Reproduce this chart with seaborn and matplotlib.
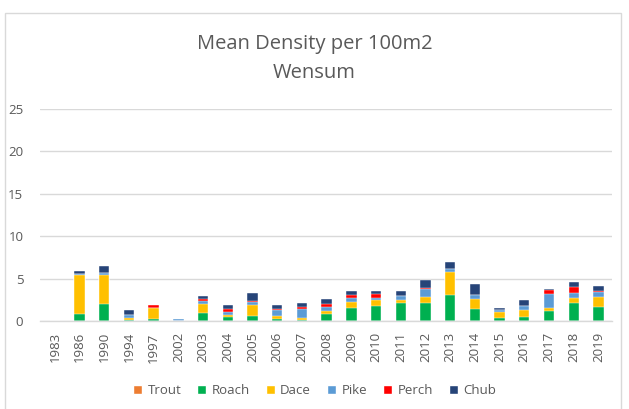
import pandas as pd
import seaborn as sns
import matplotlib.pyplot as plt
from matplotlib.patches import Patch, Rectangle

years = ['1983', '1986', '1990', '1994', '1997', '2002', '2003', '2004', '2005', '2006', '2007', '2008',
         '2009', '2010', '2011', '2012', '2013', '2014', '2015', '2016', '2017', '2018', '2019']
trout = [0] * 23
roach = [0, 0.8, 2.0, 0.1, 0.3, 0, 1.0, 0.47, 0.6, 0.27, 0.12, 0.78,
         1.5, 1.76, 2.08, 2.08, 3.06, 1.37, 0.39, 0.47, 1.18, 2.08, 1.61]
dace = [0, 4.6, 3.45, 0.25, 1.23, 0, 1.06, 0.28, 1.25, 0.36, 0.27, 0.36,
        0.78, 0.67, 0.39, 0.7, 2.7, 1.22, 0.63, 0.82, 0.31, 0.59, 1.25]
pike = [0, 0.1, 0.2, 0.35, 0, 0.2, 0.35, 0.31, 0.4, 0.62, 0.98, 0.51,
        0.4, 0.32, 0.47, 0.95, 0.32, 0.51, 0.27, 0.51, 1.69, 0.58, 0.55]
perch = [0, 0.1, 0, 0, 0.35, 0, 0.24, 0.31, 0.15, 0.2, 0.24, 0.39,
         0.39, 0.39, 0, 0.19, 0, 0, 0, 0, 0.47, 0.71, 0.08]
chub = [0, 0.35, 0.9, 0.63, 0, 0.1, 0.31, 0.51, 0.9, 0.43, 0.47, 0.55,
        0.43, 0.43, 0.63, 0.94, 0.86, 1.29, 0.28, 0.67, 0.15, 0.59, 0.67]

species = ['Trout', 'Roach', 'Dace', 'Pike', 'Perch', 'Chub']
colors = ['#ED7D31', '#00B050', '#FFC000', '#5B9BD5', '#FF0000', '#264478']

df = pd.DataFrame({'Year': years, 'Trout': trout, 'Roach': roach, 'Dace': dace,
                   'Pike': pike, 'Perch': perch, 'Chub': chub})

# cumulative totals so each layer can be drawn on top of the previous one
cum = df[species].cumsum(axis=1)
cum['Year'] = df['Year']

sns.set_style('white')
plt.rcParams['font.family'] = ['Open Sans', 'DejaVu Sans']

fig = plt.figure(figsize=(6.29, 4.09), dpi=100)
ax = fig.add_axes([0.0636, 0.215, 0.9094, 0.5185])

# draw tallest cumulative layer first, smaller ones over it
for sp, c in reversed(list(zip(species, colors))):
    sns.barplot(data=cum, x='Year', y=sp, color=c, width=0.42, ax=ax,
                saturation=1, edgecolor='white', linewidth=0.3)

ax.set_ylim(0, 25)
ax.set_xlim(-0.6, len(years) - 0.45)
ax.set_yticks([0, 5, 10, 15, 20, 25])
ax.yaxis.grid(True, color='#D9D9D9', linewidth=1)
ax.set_axisbelow(True)
for s in ['top', 'right', 'left']:
    ax.spines[s].set_visible(False)
ax.spines['bottom'].set_color('#D9D9D9')
ax.spines['bottom'].set_linewidth(1)
ax.tick_params(axis='x', rotation=90, labelsize=9.5, colors='#595959', length=0, pad=8)
ax.tick_params(axis='y', labelsize=9.5, colors='#595959', length=0, pad=12)
ax.set_xlabel('')
ax.set_ylabel('')

fig.text(0.5, 0.892, 'Mean Density per 100m2', ha='center', va='center', fontsize=14.5, color='#595959')
fig.text(0.5, 0.822, 'Wensum', ha='center', va='center', fontsize=14.5, color='#595959')

handles = [Patch(facecolor=c, label=s) for s, c in zip(species, colors)]
fig.legend(handles=handles, loc='center', bbox_to_anchor=(0.5, 0.045), ncol=6, frameon=False,
           fontsize=9.5, labelcolor='#595959', handlelength=0.7, handleheight=0.7,
           handletextpad=0.4, columnspacing=1.2)

# chart border
fig.patches.append(Rectangle((0.008, -0.01), 0.98, 0.978, transform=fig.transFigure,
                             fill=False, edgecolor='#D9D9D9', linewidth=1))

fig.savefig('out.png', dpi=100)
